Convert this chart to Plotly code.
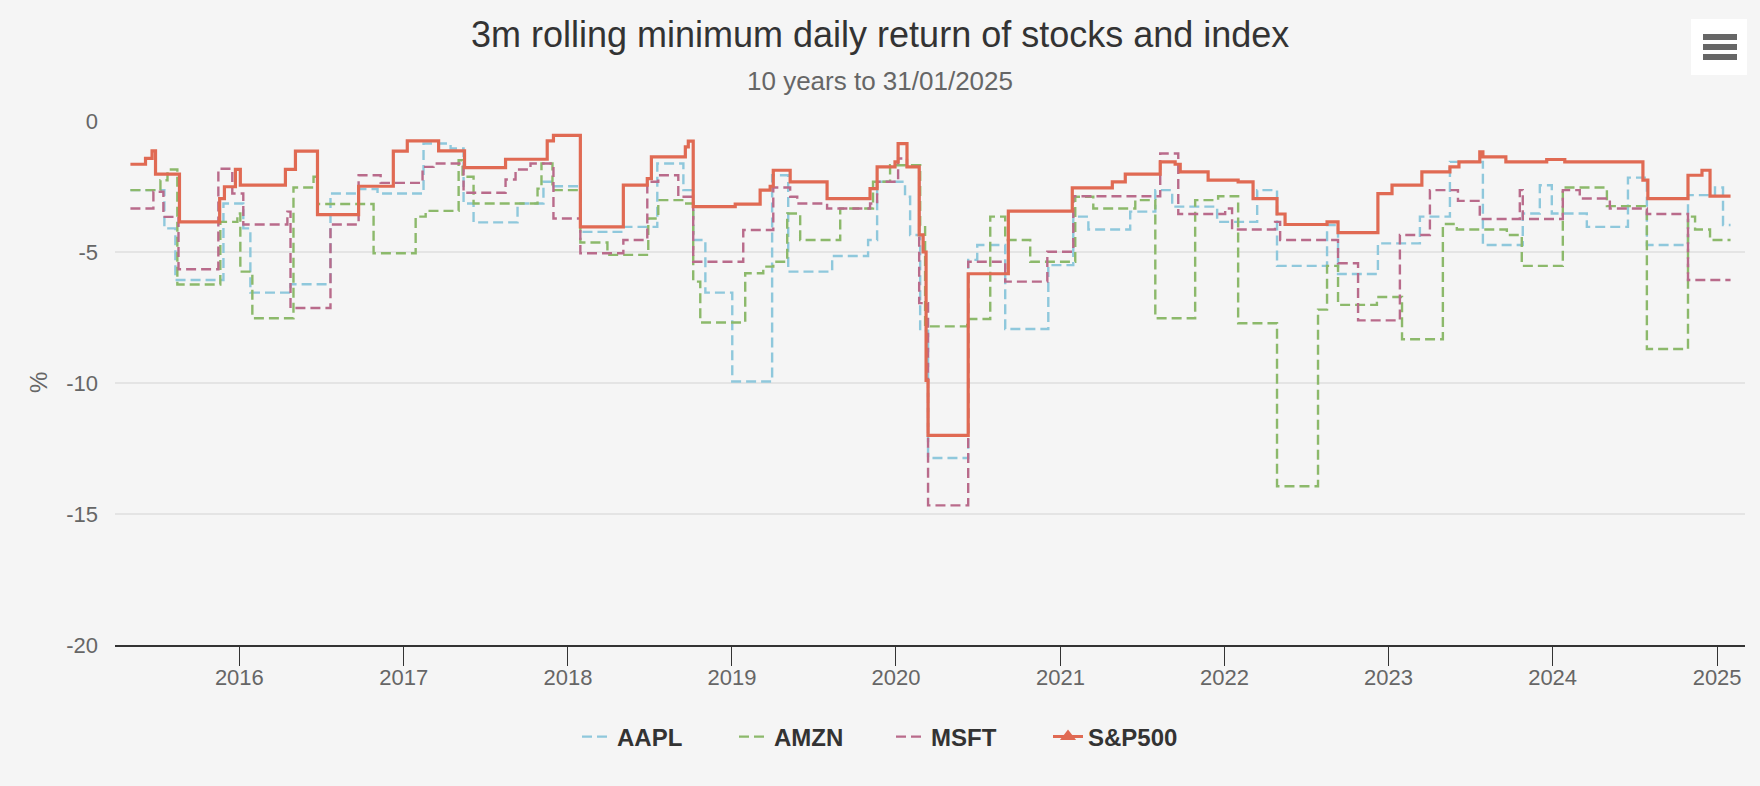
import pandas as pd
import plotly.graph_objects as go

# ---------------- data (decimal years, % values) ----------------
END_T = 2025.082

aapl_t = [2015.336, 2015.543, 2015.610, 2015.903, 2016.024, 2016.067, 2016.311, 2016.554, 2016.725,
          2016.840, 2017.120, 2017.285, 2017.364, 2017.425, 2017.693, 2017.851, 2017.912, 2018.076,
          2018.338, 2018.545, 2018.704, 2018.764, 2018.838, 2019.002, 2019.245, 2019.343, 2019.611,
          2019.830, 2019.885, 2020.055, 2020.086, 2020.147, 2020.195, 2020.439, 2020.494, 2020.664,
          2020.926, 2021.078, 2021.170, 2021.425, 2021.578, 2021.681, 2021.955, 2022.199, 2022.320,
          2022.625, 2022.692, 2022.935, 2023.191, 2023.374, 2023.575, 2023.818, 2023.922, 2023.995,
          2024.208, 2024.458, 2024.573, 2024.823, 2024.987, 2025.036]
aapl_v = [-2.64, -4.10, -6.07, -3.15, -4.10, -6.55, -6.23, -2.77, -2.60,
          -2.77, -0.86, -1.05, -3.15, -3.87, -3.15, -2.32, -2.49, -4.23,
          -4.04, -1.62, -2.64, -4.54, -6.55, -9.94, -2.07, -5.75, -5.15,
          -4.54, -2.32, -2.89, -4.35, -8.00, -12.86, -5.30, -4.73, -7.94,
          -5.50, -3.65, -4.14, -3.46, -2.64, -3.27, -3.85, -2.64, -5.53,
          -3.97, -5.84, -4.67, -3.65, -1.56, -4.73, -3.53, -2.45, -3.53,
          -4.04, -2.16, -4.73, -2.83, -2.54, -3.97]

amzn_t = [2015.336, 2015.519, 2015.562, 2015.622, 2015.884, 2015.988, 2016.006, 2016.079, 2016.329,
          2016.451, 2016.475, 2016.816, 2017.072, 2017.133, 2017.334, 2017.358, 2017.425, 2017.815,
          2017.839, 2017.906, 2018.076, 2018.241, 2018.490, 2018.551, 2018.697, 2018.764, 2018.807,
          2019.081, 2019.191, 2019.252, 2019.337, 2019.416, 2019.660, 2019.860, 2019.964, 2020.147,
          2020.177, 2020.433, 2020.573, 2020.664, 2020.816, 2021.090, 2021.200, 2021.456, 2021.578,
          2021.821, 2021.961, 2022.083, 2022.320, 2022.570, 2022.625, 2022.692, 2022.929, 2023.082,
          2023.331, 2023.416, 2023.721, 2023.812, 2024.062, 2024.330, 2024.573, 2024.823, 2024.866,
          2024.957]
amzn_v = [-2.64, -2.26, -1.85, -6.24, -3.85, -3.53, -5.75, -7.53, -2.54,
          -2.13, -3.17, -5.05, -3.65, -3.43, -1.50, -2.13, -3.15, -2.58,
          -1.62, -2.64, -4.64, -5.11, -3.72, -3.02, -3.15, -6.13, -7.69,
          -5.81, -5.56, -5.37, -3.53, -4.54, -3.34, -2.32, -1.69, -4.00,
          -7.84, -7.56, -3.65, -4.54, -5.37, -2.89, -3.34, -3.02, -7.53,
          -3.02, -2.87, -7.72, -13.94, -7.20, -5.53, -7.02, -6.72, -8.33,
          -3.93, -4.14, -4.35, -5.53, -2.54, -3.25, -8.70, -3.65, -4.14,
          -4.54]

msft_t = [2015.336, 2015.476, 2015.537, 2015.629, 2015.872, 2015.957, 2016.024, 2016.292, 2016.311,
          2016.554, 2016.725, 2016.859, 2017.114, 2017.181, 2017.364, 2017.620, 2017.681, 2017.772,
          2017.912, 2018.076, 2018.338, 2018.484, 2018.551, 2018.673, 2018.764, 2019.069, 2019.252,
          2019.355, 2019.398, 2019.580, 2019.842, 2019.885, 2020.013, 2020.067, 2020.141, 2020.195,
          2020.439, 2020.664, 2020.920, 2021.078, 2021.608, 2021.718, 2022.004, 2022.046, 2022.308,
          2022.339, 2022.692, 2022.814, 2023.069, 2023.252, 2023.423, 2023.556, 2023.800, 2023.818,
          2024.062, 2024.165, 2024.348, 2024.573, 2024.823]
msft_v = [-3.34, -2.70, -3.66, -5.66, -1.82, -2.77, -3.95, -3.46, -7.14,
          -3.95, -2.07, -2.36, -1.75, -1.62, -2.74, -2.23, -1.85, -1.62,
          -3.72, -5.05, -4.54, -2.32, -2.07, -2.89, -5.37, -4.16, -2.54,
          -2.89, -3.15, -3.34, -3.15, -2.32, -1.43, -1.75, -6.95, -14.67,
          -5.37, -6.13, -4.99, -2.87, -1.24, -3.55, -3.34, -4.14, -3.85,
          -4.54, -5.43, -7.61, -4.35, -2.64, -3.05, -3.74, -2.64, -3.74,
          -2.64, -2.96, -3.34, -3.55, -6.07]

spx_t = [2015.336, 2015.428, 2015.468, 2015.489, 2015.635, 2015.880, 2015.909, 2015.976, 2016.006,
         2016.280, 2016.341, 2016.475, 2016.725, 2016.936, 2017.021, 2017.212, 2017.370, 2017.620,
         2017.874, 2017.912, 2018.076, 2018.338, 2018.484, 2018.509, 2018.716, 2018.734, 2018.764,
         2019.020, 2019.172, 2019.233, 2019.252, 2019.355, 2019.580, 2019.842, 2019.885, 2019.994,
         2020.013, 2020.067, 2020.141, 2020.165, 2020.183, 2020.195, 2020.439, 2020.683, 2021.072,
         2021.316, 2021.395, 2021.608, 2021.699, 2021.730, 2021.900, 2022.083, 2022.174, 2022.320,
         2022.369, 2022.625, 2022.692, 2022.935, 2023.021, 2023.203, 2023.374, 2023.429, 2023.556,
         2023.575, 2023.715, 2023.964, 2024.074, 2024.549, 2024.579, 2024.823, 2024.908, 2024.957]
spx_v = [-1.65, -1.43, -1.14, -2.03, -3.85, -2.96, -2.51, -1.85, -2.45,
         -1.85, -1.15, -3.57, -2.49, -1.15, -0.76, -1.14, -1.78, -1.46,
         -0.76, -0.55, -4.04, -2.45, -2.20, -1.37, -0.99, -0.77, -3.27,
         -3.17, -2.64, -2.49, -1.88, -2.32, -2.96, -2.58, -1.75, -1.56,
         -0.86, -1.75, -4.35, -5.00, -9.90, -12.00, -5.83, -3.44, -2.55,
         -2.32, -2.03, -1.56, -1.65, -1.94, -2.26, -2.32, -2.96, -3.55,
         -3.95, -3.85, -4.26, -2.77, -2.45, -1.94, -1.75, -1.56, -1.18,
         -1.37, -1.56, -1.47, -1.56, -2.26, -2.96, -2.07, -1.88, -2.87]

year_ticks = list(range(2016, 2026))
y_ticks = [0, -5, -10, -15, -20]

series = [
    ("AAPL", aapl_t, aapl_v, "#8fc8dc"),
    ("AMZN", amzn_t, amzn_v, "#8cb96b"),
    ("MSFT", msft_t, msft_v, "#b96b8b"),
]
SPX_COLOR = "#e06a53"


def to_date(t):
    y = int(t)
    start = pd.Timestamp(year=y, month=1, day=1)
    ndays = 366 if (y % 4 == 0) else 365
    return start + pd.Timedelta(days=(t - y) * ndays)


def dates(ts):
    return [to_date(t) for t in ts] + [to_date(END_T)]


FONT = "Liberation Sans, Arial, Helvetica, sans-serif"
BG = "#f5f5f5"

fig = go.Figure()
for name, ts, vs, col in series:
    fig.add_trace(go.Scatter(
        x=dates(ts), y=list(vs) + [vs[-1]], name=name, mode="lines",
        line=dict(color=col, width=2.4, dash="10px,5px", shape="hv"),
        hoverinfo="skip"))

fig.add_trace(go.Scatter(
    x=dates(spx_t), y=list(spx_v) + [spx_v[-1]], name="S&P500", mode="lines",
    line=dict(color=SPX_COLOR, width=3.2, shape="hv"), showlegend=False, hoverinfo="skip"))
# legend entry with triangle marker
fig.add_trace(go.Scatter(
    x=[None], y=[None], name="S&P500", mode="lines+markers",
    line=dict(color=SPX_COLOR, width=3),
    marker=dict(symbol="triangle-up", size=14, color=SPX_COLOR)))

L, R, T, B = 115, 15, 121, 141
W, H = 1760, 786
pw, ph = W - L - R, H - T - B


def px(x):
    return (x - L) / pw


def py(y):
    return (H - B - y) / ph


fig.update_layout(
    width=W, height=H,
    margin=dict(l=L, r=R, t=T, b=B, pad=0),
    paper_bgcolor=BG, plot_bgcolor=BG,
    font=dict(family=FONT, color="#666666", size=22),
    showlegend=True,
    legend=dict(orientation="h", x=px(891), xanchor="center", y=py(737), yanchor="middle",
                font=dict(size=24, color="#333333", family=FONT, weight="bold"),
                entrywidth=112, bgcolor="rgba(0,0,0,0)", traceorder="normal"),
    xaxis=dict(type="date",
               range=[to_date(2015.242), to_date(2025.170)],
               tickvals=[pd.Timestamp(year=y, month=1, day=1) for y in year_ticks],
               ticktext=[str(y) for y in year_ticks],
               showgrid=False, zeroline=False,
               showline=True, linecolor="#333333", linewidth=2,
               ticks="outside", ticklen=19, tickwidth=1, tickcolor="#333333",
               ticklabelstandoff=-7,
               tickfont=dict(size=22, color="#666666")),
    yaxis=dict(range=[-20, 0], tickvals=y_ticks, ticktext=[str(v) for v in y_ticks],
               showgrid=True, gridcolor="#e4e4e4", gridwidth=2, zeroline=False,
               showline=False, ticks="", ticklabelstandoff=16,
               tickfont=dict(size=22, color="#666666")),
    annotations=[
        dict(text="3m rolling minimum daily return of stocks and index", xref="paper", yref="paper",
             x=px(880), y=py(34), xanchor="center", yanchor="middle", showarrow=False,
             font=dict(size=36, color="#333333", family=FONT)),
        dict(text="10 years to 31/01/2025", xref="paper", yref="paper",
             x=px(880), y=py(81), xanchor="center", yanchor="middle", showarrow=False,
             font=dict(size=26, color="#666666", family=FONT)),
        dict(text="%", xref="paper", yref="paper", x=px(38), y=py(383), textangle=-90,
             xanchor="center", yanchor="middle", showarrow=False,
             font=dict(size=24, color="#666666", family=FONT)),
    ],
    shapes=[
        dict(type="rect", xref="paper", yref="paper", x0=px(1691), x1=px(1747), y0=py(75), y1=py(19),
             fillcolor="#ffffff", line=dict(width=0), layer="above"),
        dict(type="line", xref="paper", yref="paper", x0=px(1703), x1=px(1737), y0=py(37), y1=py(37),
             line=dict(color="#666666", width=6), layer="above"),
        dict(type="line", xref="paper", yref="paper", x0=px(1703), x1=px(1737), y0=py(47), y1=py(47),
             line=dict(color="#666666", width=6), layer="above"),
        dict(type="line", xref="paper", yref="paper", x0=px(1703), x1=px(1737), y0=py(57), y1=py(57),
             line=dict(color="#666666", width=6), layer="above"),
    ],
)

fig.write_html(
    "out.html",
    config={"displayModeBar": False},
    post_script="document.body.style.margin='0px';document.body.style.background='#f5f5f5';",
)
